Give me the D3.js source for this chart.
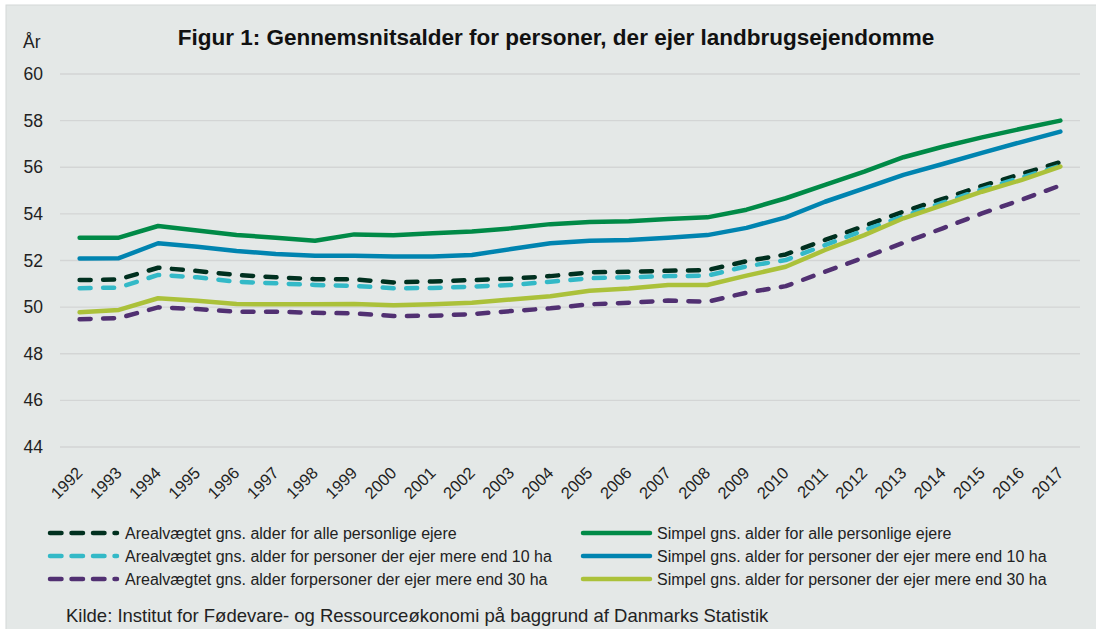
<!DOCTYPE html>
<html>
<head>
<meta charset="utf-8">
<script src="https://cdn.jsdelivr.net/npm/d3@7"></script>
<style>
  html, body { margin: 0; padding: 0; background: #fff; }
  svg { display: block; font-family: "Liberation Sans", Arial, sans-serif; }
</style>
</head>
<body>
<div id="graph"></div>
<script>
const years = ['1992','1993','1994','1995','1996','1997','1998','1999','2000','2001','2002','2003','2004',
  '2005','2006','2007','2008','2009','2010','2011','2012','2013','2014','2015','2016','2017']
const yTicks = [44, 46, 48, 50, 52, 54, 56, 58, 60]

const arealAlle = [51.16, 51.19, 51.69, 51.55, 51.38, 51.28, 51.2, 51.19, 51.06, 51.1, 51.16, 51.22, 51.33,
  51.49, 51.52, 51.56, 51.59, 51.97, 52.26, 52.88, 53.48, 54.1, 54.64, 55.2, 55.71, 56.22]
const areal10 = [50.81, 50.84, 51.38, 51.28, 51.09, 51.02, 50.95, 50.91, 50.81, 50.82, 50.88, 50.95, 51.09,
  51.24, 51.28, 51.33, 51.35, 51.75, 52.02, 52.66, 53.3, 53.9, 54.48, 55.05, 55.56, 56.06]
const areal30 = [49.48, 49.53, 49.99, 49.92, 49.8, 49.8, 49.76, 49.73, 49.62, 49.63, 49.7, 49.83, 49.95,
  50.12, 50.19, 50.28, 50.23, 50.62, 50.9, 51.52, 52.13, 52.76, 53.38, 54.02, 54.6, 55.22]
const simpelAlle = [52.98, 52.98, 53.48, 53.29, 53.09, 52.98, 52.85, 53.12, 53.08, 53.17, 53.24, 53.38, 53.56,
  53.65, 53.68, 53.78, 53.85, 54.18, 54.67, 55.24, 55.81, 56.43, 56.88, 57.28, 57.65, 58.0]
const simpel10 = [52.09, 52.1, 52.74, 52.59, 52.41, 52.28, 52.2, 52.2, 52.17, 52.17, 52.24, 52.49, 52.74,
  52.85, 52.88, 52.98, 53.09, 53.4, 53.85, 54.52, 55.09, 55.67, 56.14, 56.62, 57.08, 57.53]
const simpel30 = [49.78, 49.88, 50.38, 50.27, 50.13, 50.12, 50.12, 50.13, 50.08, 50.12, 50.19, 50.33, 50.47,
  50.7, 50.8, 50.95, 50.95, 51.35, 51.73, 52.45, 53.09, 53.81, 54.38, 54.95, 55.45, 56.03]

const series = [
  {name: 'Arealvægtet gns. alder for alle personlige ejere', values: arealAlle, color: '#00301f', dashed: true},
  {name: 'Arealvægtet gns. alder for personer der ejer mere end 10 ha', values: areal10, color: '#33b9c7', dashed: true},
  {name: 'Arealvægtet gns. alder forpersoner der ejer mere end 30 ha', values: areal30, color: '#513072', dashed: true},
  {name: 'Simpel gns. alder for alle personlige ejere', values: simpelAlle, color: '#008a47', dashed: false},
  {name: 'Simpel gns. alder for personer der ejer mere end 10 ha', values: simpel10, color: '#0084b0', dashed: false},
  {name: 'Simpel gns. alder for personer der ejer mere end 30 ha', values: simpel30, color: '#abc13a', dashed: false}
]

const width = 1096
const height = 629
const margin = {top: 74, left: 60, right: 16, bottom: 182}
const font = '"Liberation Sans", Arial, sans-serif'

const svg = d3.select('#graph').append('svg')
  .attr('width', width)
  .attr('height', height)

svg.append('rect')
  .attr('x', 6).attr('y', 5)
  .attr('width', width).attr('height', height)
  .attr('fill', '#e4e8e7')
  .attr('stroke', '#d4d8d7')

const x = d3.scaleBand()
  .domain(years)
  .range([margin.left, width - margin.right])

const y = d3.scaleLinear()
  .domain([44, 60])
  .range([height - margin.bottom, margin.top])

// grid
svg.append('g')
  .selectAll('line')
  .data(yTicks)
  .join('line')
  .attr('x1', margin.left)
  .attr('x2', width - margin.right)
  .attr('y1', d => y(d))
  .attr('y2', d => y(d))
  .attr('stroke', '#d3d5d5')
  .attr('stroke-width', 1.3)

// y axis
const yAxis = svg.append('g')
  .attr('transform', `translate(${margin.left},0)`)
  .call(d3.axisLeft(y).tickValues(yTicks).tickSize(0).tickPadding(17))
yAxis.select('.domain').remove()
yAxis.selectAll('text')
  .attr('font-size', 17.5)
  .attr('fill', '#222')
  .attr('font-family', font)

// x axis
const xAxis = svg.append('g')
  .attr('transform', `translate(0,${height - margin.bottom})`)
  .call(d3.axisBottom(x).tickSize(0).tickPadding(0))
xAxis.select('.domain').remove()
xAxis.selectAll('text')
  .attr('font-size', 16.5)
  .attr('fill', '#222')
  .attr('font-family', font)
  .attr('text-anchor', 'end')
  .attr('dy', 0)
  .attr('transform', 'translate(4,27) rotate(-45)')

svg.append('text')
  .attr('x', 23).attr('y', 48)
  .attr('font-size', 17.5)
  .attr('fill', '#222')
  .text('År')

svg.append('text')
  .attr('x', 556).attr('y', 45)
  .attr('text-anchor', 'middle')
  .attr('font-size', 22.5)
  .attr('font-weight', 'bold')
  .attr('fill', '#111')
  .text('Figur 1: Gennemsnitsalder for personer, der ejer landbrugsejendomme')

const line = d3.line()
  .x((d, i) => x(years[i]) + x.bandwidth() / 2)
  .y(d => y(d))

svg.append('g')
  .selectAll('path')
  .data(series)
  .join('path')
  .attr('d', d => line(d.values))
  .attr('fill', 'none')
  .attr('stroke', d => d.color)
  .attr('stroke-width', 4.5)
  .attr('stroke-linecap', 'round')
  .attr('stroke-linejoin', 'round')
  .attr('stroke-dasharray', d => d.dashed ? '11,12.5' : null)

// legend
const legend = svg.append('g')
const item = legend.selectAll('g')
  .data(series)
  .join('g')
  .attr('transform', (d, i) => `translate(${i < 3 ? 50 : 583},${533 + (i % 3) * 23})`)

item.append('line')
  .attr('x1', 0).attr('x2', 67)
  .attr('y1', 0).attr('y2', 0)
  .attr('stroke', d => d.color)
  .attr('stroke-width', 4.5)
  .attr('stroke-linecap', 'round')
  .attr('stroke-dasharray', d => d.dashed ? '11.5,10' : null)

item.append('text')
  .attr('x', d => d.dashed ? 75 : 74)
  .attr('y', 5.5)
  .attr('font-size', 16)
  .attr('fill', '#222')
  .text(d => d.name)

svg.append('text')
  .attr('x', 66).attr('y', 622)
  .attr('font-size', 18.5)
  .attr('fill', '#222')
  .text('Kilde: Institut for Fødevare- og Ressourceøkonomi på baggrund af Danmarks Statistik')
</script>
</body>
</html>
